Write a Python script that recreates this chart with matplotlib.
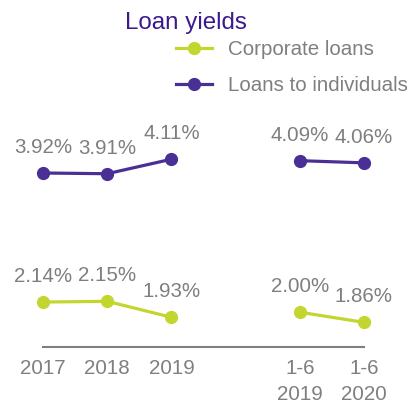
import matplotlib
matplotlib.use("Agg")
import matplotlib.pyplot as plt
from matplotlib.lines import Line2D

plt.rcParams['font.family'] = ['Liberation Sans', 'DejaVu Sans']

categories = ["2017", "2018", "2019", "1-6\n2019", "1-6\n2020"]
positions = [0, 1, 2, 4, 5]
corporate = [2.14, 2.15, 1.93, 2.00, 1.86]
individuals = [3.92, 3.91, 4.11, 4.09, 4.06]
series_names = ["Corporate loans", "Loans to individuals"]
title = "Loan yields"

GREEN = "#c3d630"
PURPLE = "#4a2f94"
GREY = "#7f7f7f"
TITLE_C = "#3a1a8c"

W, H = 414, 404
fig = plt.figure(figsize=(W / 100, H / 100), dpi=100)
ax_bottom_px = 347
ax_top_px = 20
ax = fig.add_axes([0, (H - ax_bottom_px) / H, 1, (ax_bottom_px - ax_top_px) / H])
ax.set_xlim(-43 / 64.2, 5 + (W - 364) / 64.2)
ymin = 1.52
ax.set_ylim(ymin, ymin + (ax_bottom_px - ax_top_px) / 72.5)

fs = 14.8
for vals, col in [(corporate, GREEN), (individuals, PURPLE)]:
    for seg in [(0, 3), (3, 5)]:
        ax.plot(positions[seg[0]:seg[1]], vals[seg[0]:seg[1]], color=col, lw=2.3,
                marker='o', ms=8.5, clip_on=False, solid_capstyle='round')
    for x, v in zip(positions, vals):
        ax.annotate(f"{v:.2f}%", (x, v), xytext=(0, 20), textcoords='offset pixels',
                    ha='center', va='baseline', fontsize=fs, color=GREY)

for s in ['top', 'left', 'right']:
    ax.spines[s].set_visible(False)
ax.spines['bottom'].set_bounds(0, 5)
ax.spines['bottom'].set_color(GREY)
ax.spines['bottom'].set_linewidth(1.5)
ax.set_yticks([])
ax.set_xticks(positions)
ax.set_xticklabels(categories, fontsize=fs, color=GREY, linespacing=1.45)
ax.tick_params(axis='x', length=0, pad=9)

fig.text(186 / W, 1 - 29 / H, title, ha='center', va='baseline', fontsize=17.4, color=TITLE_C)

handles = [Line2D([], [], color=GREEN, lw=2.3, marker='o', ms=8.5),
           Line2D([], [], color=PURPLE, lw=2.3, marker='o', ms=8.5)]
fig.legend(handles, series_names, loc='upper left', bbox_to_anchor=(176 / W, 1 - 40 / H),
           frameon=False, fontsize=fs, labelcolor=GREY, handlelength=1.74,
           handletextpad=0.77, labelspacing=0.82, borderpad=0, borderaxespad=0)

fig.savefig("out.png", dpi=100)
